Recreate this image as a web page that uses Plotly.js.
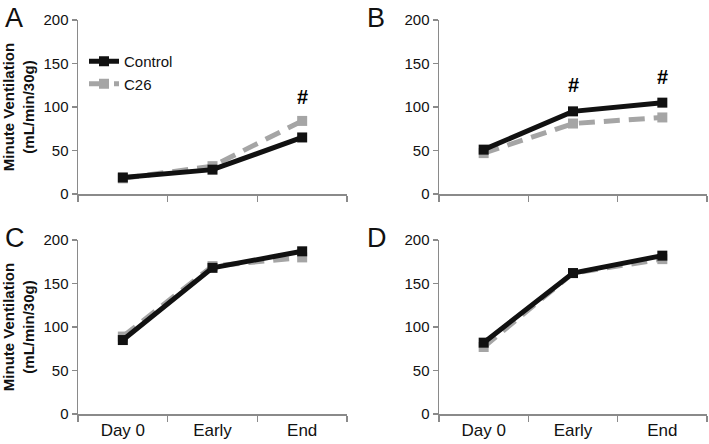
<!DOCTYPE html>
<html>
<head>
<meta charset="utf-8">
<script src="https://cdn.plot.ly/plotly-3.0.1.min.js"></script>
<style>html,body{margin:0;padding:0;background:#fff;}#chart{width:709px;height:444px;}</style>
</head>
<body>
<div id="chart"></div>
<script>
const categories = ["Day 0", "Early", "End"];
const panelLabels = ["A", "B", "C", "D"];
const controlA = [19, 28, 65];
const c26A = [18, 32, 84];
const controlB = [51, 95, 105];
const c26B = [47, 81, 88];
const controlC = [85, 168, 187];
const c26C = [89, 170, 180];
const controlD = [82, 162, 182];
const c26D = [77, 162, 178];
const yTickVals = [0, 50, 100, 150, 200];
const yTitle = "<b>Minute Ventilation<br>(mL/min/30g)</b>";
const sigA = [{x: "End", y: 96}];
const sigB = [{x: "Early", y: 110}, {x: "End", y: 119}];

const blackColor = "#111111";
const grayColor = "#a5a5a5";
const axisColor = "#8a8a8a";
const font = "Liberation Sans, Arial, sans-serif";

const panels = [
  {ctrl: controlA, c26: c26A, xa: "x", ya: "y"},
  {ctrl: controlB, c26: c26B, xa: "x2", ya: "y2"},
  {ctrl: controlC, c26: c26C, xa: "x3", ya: "y3"},
  {ctrl: controlD, c26: c26D, xa: "x4", ya: "y4"}
];

const grayTraces = [];
const blackTraces = [];
panels.forEach((p, i) => {
  blackTraces.push({
    x: categories, y: p.ctrl, xaxis: p.xa, yaxis: p.ya,
    type: "scatter", mode: "lines+markers", name: "Control",
    showlegend: i === 0, legendgroup: "ctrl",
    line: {color: blackColor, width: 5},
    marker: {symbol: "square", size: 10, color: blackColor}
  });
  grayTraces.push({
    x: categories, y: p.c26, xaxis: p.xa, yaxis: p.ya,
    type: "scatter", mode: "lines+markers", name: "C26",
    showlegend: i === 0, legendgroup: "c26",
    line: {color: grayColor, width: 5, dash: "16px,9px"},
    marker: {symbol: "square", size: 10, color: grayColor}
  });
});
const data = grayTraces.concat(blackTraces);

const colL = [78/709, 347/709];
const colR = [439/709, 707/709];
const rowT = [1 - 194/444, 1 - 20/444];
const rowB = [1 - 414/444, 1 - 240/444];

function xaxis(domain, anchor, showLabels) {
  return {
    domain: domain, anchor: anchor, type: "category",
    categoryorder: "array", categoryarray: categories,
    range: [-0.5, 2.5], tickson: "boundaries",
    showline: true, linecolor: axisColor, linewidth: 1.5,
    ticks: "outside", ticklen: 6, tickcolor: axisColor, tickwidth: 1.5,
    showgrid: false, zeroline: false, showticklabels: showLabels,
    tickfont: {family: font, size: 17, color: "#111"}
  };
}
function yaxis(domain, anchor, showTitle) {
  return {
    domain: domain, anchor: anchor, range: [0, 200],
    tickmode: "array", tickvals: yTickVals,
    showline: true, linecolor: axisColor, linewidth: 1.5,
    ticks: "outside", ticklen: 5, tickcolor: axisColor, tickwidth: 1.5,
    showgrid: false, zeroline: false,
    tickfont: {family: font, size: 15, color: "#111"},
    title: showTitle ? {text: yTitle, font: {family: font, size: 15, color: "#111"}, standoff: 6} : {text: ""}
  };
}

const annotations = [];
const letterPos = [[3/709, 1 - 1/444], [365/709, 1 - 1/444], [3/709, 1 - 221/444], [365/709, 1 - 221/444]];
panelLabels.forEach((l, i) => {
  annotations.push({text: l, xref: "paper", yref: "paper", x: letterPos[i][0], y: letterPos[i][1],
    xanchor: "left", yanchor: "top", showarrow: false, font: {family: font, size: 27, color: "#111"}});
});
sigA.forEach(s => annotations.push({text: "<b>#</b>", xref: "x", yref: "y", x: s.x, y: s.y, showarrow: false,
  yanchor: "bottom", font: {family: font, size: 20, color: "#000"}}));
sigB.forEach(s => annotations.push({text: "<b>#</b>", xref: "x2", yref: "y2", x: s.x, y: s.y, showarrow: false,
  yanchor: "bottom", font: {family: font, size: 20, color: "#000"}}));

const layout = {
  width: 709, height: 444,
  margin: {l: 0, r: 0, t: 0, b: 0},
  paper_bgcolor: "#fff", plot_bgcolor: "#fff",
  showlegend: true,
  legend: {x: 84/709, y: 1 - 45/444, xanchor: "left", yanchor: "top",
    bgcolor: "rgba(0,0,0,0)", font: {family: font, size: 15, color: "#111"},
    traceorder: "reversed", tracegroupgap: 0, itemwidth: 30},
  xaxis: xaxis(colL, "y", false),
  yaxis: yaxis(rowT, "x", true),
  xaxis2: xaxis(colR, "y2", false),
  yaxis2: yaxis(rowT, "x2", false),
  xaxis3: xaxis(colL, "y3", true),
  yaxis3: yaxis(rowB, "x3", true),
  xaxis4: xaxis(colR, "y4", true),
  yaxis4: yaxis(rowB, "x4", false),
  annotations: annotations
};

Plotly.newPlot("chart", data, layout, {displayModeBar: false, staticPlot: true});
</script>
</body>
</html>
